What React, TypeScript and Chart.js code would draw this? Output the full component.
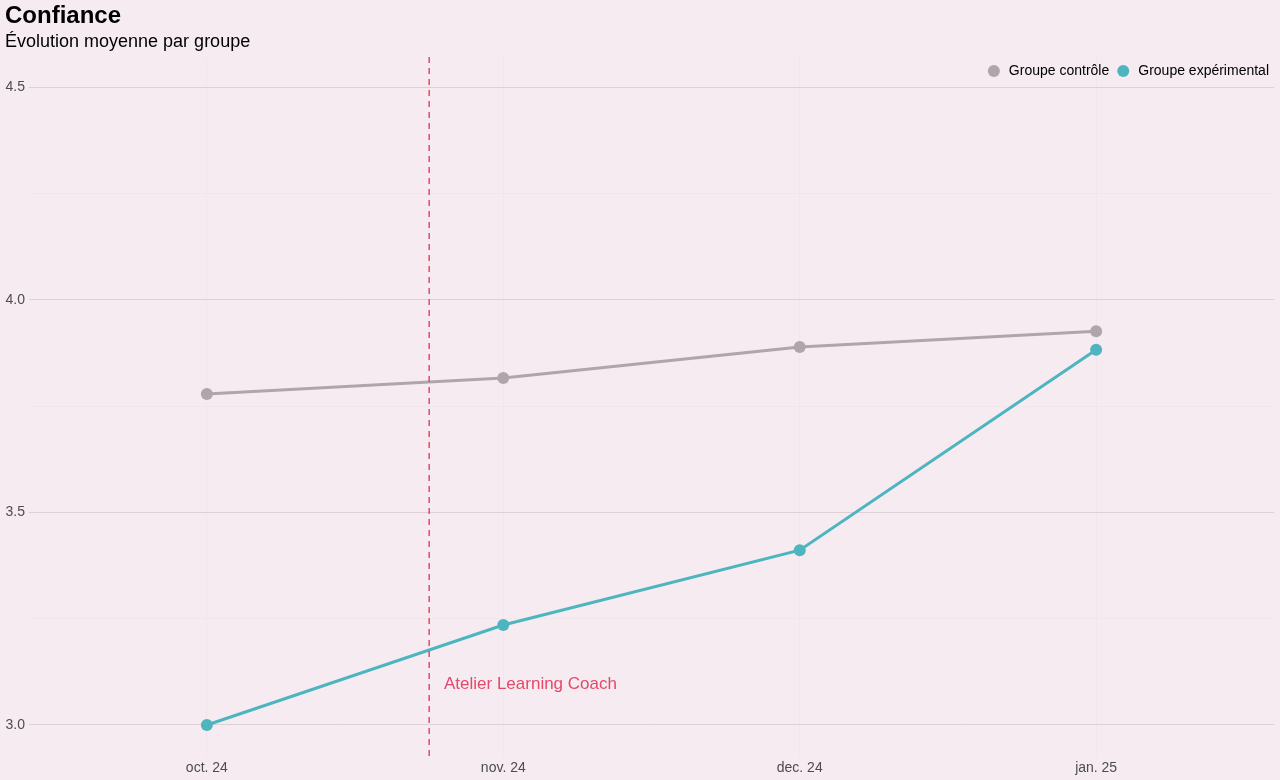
import React, { useEffect, useRef } from "react";
import { Chart, registerables } from "chart.js";

Chart.register(...registerables);

const categories = ["oct. 24", "nov. 24", "dec. 24", "jan. 25"];
const controlValues = [3.778, 3.816, 3.889, 3.926];
const experimentalValues = [3.0, 3.235, 3.411, 3.882];
const seriesLabels = ["Groupe contrôle", "Groupe expérimental"];
const yTickValues = [3.0, 3.5, 4.0, 4.5];
const eventX = 1.75;
const eventLabel = "Atelier Learning Coach";
const eventLabelX = 1.8;
const eventLabelY = 3.095;
const titleText = "Confiance";
const subtitleText = "Évolution moyenne par groupe";

const BG = "#F5EBF0";
const GREY = "#B0A5AB";
const TEAL = "#4DB5C0";
const RED = "#E5486A";
const FONT = "'Liberation Sans', Arial, sans-serif";

const bgPlugin = {
  id: "bgFill",
  beforeDraw(chart: any) {
    const { ctx, width, height } = chart;
    ctx.save();
    ctx.fillStyle = BG;
    ctx.fillRect(0, 0, width, height);
    ctx.restore();
  },
};

const eventPlugin = {
  id: "eventLine",
  afterDatasetsDraw(chart: any) {
    const { ctx, chartArea, scales } = chart;
    const x = scales.x.getPixelForValue(eventX);
    ctx.save();
    ctx.strokeStyle = RED;
    ctx.lineWidth = 1.5;
    ctx.setLineDash([6, 5]);
    ctx.beginPath();
    ctx.moveTo(x, chartArea.top);
    ctx.lineTo(x, chartArea.bottom);
    ctx.stroke();
    ctx.setLineDash([]);
    ctx.fillStyle = RED;
    ctx.font = `17px ${FONT}`;
    ctx.textAlign = "left";
    ctx.textBaseline = "middle";
    ctx.fillText(eventLabel, scales.x.getPixelForValue(eventLabelX), scales.y.getPixelForValue(eventLabelY));
    ctx.restore();
  },
};

const legendPlugin = {
  id: "customLegend",
  afterDraw(chart: any) {
    const { ctx, chartArea } = chart;
    ctx.save();
    ctx.font = `14px ${FONT}`;
    ctx.textBaseline = "middle";
    ctx.textAlign = "left";
    const y = chartArea.top + 14;
    let x = chartArea.right - 5;
    const items = chart.data.datasets.map((d: any) => ({ label: d.label, color: d.borderColor }));
    for (let i = items.length - 1; i >= 0; i--) {
      const w = ctx.measureText(items[i].label).width;
      const tx = x - w;
      ctx.fillStyle = "#000";
      ctx.fillText(items[i].label, tx, y);
      ctx.fillStyle = items[i].color;
      ctx.beginPath();
      ctx.arc(tx - 15, y, 6, 0, Math.PI * 2);
      ctx.fill();
      x = tx - 15 - 14;
    }
    ctx.restore();
  },
};

export default function App() {
  const ref = useRef<HTMLCanvasElement>(null);
  useEffect(() => {
    document.body.style.margin = "0";
    document.body.style.background = BG;
    const toPts = (vals: number[]) => vals.map((v, i) => ({ x: i + 1, y: v }));
    const chart = new Chart(ref.current!, {
      type: "line",
      data: {
        datasets: [
          {
            label: seriesLabels[0],
            data: toPts(controlValues),
            borderColor: GREY,
            backgroundColor: GREY,
            borderWidth: 3,
            pointRadius: 6,
            pointHoverRadius: 6,
            pointBorderWidth: 0,
          },
          {
            label: seriesLabels[1],
            data: toPts(experimentalValues),
            borderColor: TEAL,
            backgroundColor: TEAL,
            borderWidth: 3,
            pointRadius: 6,
            pointHoverRadius: 6,
            pointBorderWidth: 0,
          },
        ],
      },
      options: {
        animation: false,
        responsive: false,
        layout: { padding: { left: 5, right: 5, top: 0, bottom: 0 } },
        scales: {
          x: {
            type: "linear",
            min: 0.4,
            max: 4.6,
            afterBuildTicks: (axis: any) => {
              axis.ticks = categories.map((_, i) => ({ value: i + 1 }));
            },
            afterFit: (axis: any) => {
              axis.height = 23;
            },
            ticks: {
              callback: (v: any) => categories[Number(v) - 1] ?? "",
              color: "#4D4D4D",
              font: { family: FONT, size: 14 },
              padding: 3,
              maxRotation: 0,
              autoSkip: false,
            },
            grid: { color: "#F0E6EB", drawTicks: false, lineWidth: 1 },
            border: { display: false },
          },
          y: {
            type: "linear",
            min: 2.9247,
            max: 4.5706,
            afterBuildTicks: (axis: any) => {
              const t: any[] = [];
              for (let v = 3.0; v <= 4.5001; v += 0.25) t.push({ value: Math.round(v * 100) / 100 });
              axis.ticks = t;
            },
            afterFit: (axis: any) => {
              axis.width = 24;
            },
            ticks: {
              callback: (v: any) => (yTickValues.some((y) => Math.abs(y - Number(v)) < 1e-6) ? Number(v).toFixed(1) : ""),
              color: "#4D4D4D",
              font: { family: FONT, size: 14 },
              padding: 4,
            },
            grid: {
              color: (c: any) =>
                yTickValues.some((y) => Math.abs(y - c.tick?.value) < 1e-6) ? "#DDD1D7" : "#F0E6EB",
              drawTicks: false,
              lineWidth: 1,
            },
            border: { display: false },
          },
        },
        plugins: {
          title: {
            display: true,
            text: titleText,
            align: "start",
            color: "#000",
            font: { family: FONT, size: 24, weight: "bold" },
            padding: { top: 2, bottom: 0 },
          },
          subtitle: {
            display: true,
            text: subtitleText,
            align: "start",
            color: "#000",
            font: { family: FONT, size: 18 },
            padding: { top: 0, bottom: 4.6 },
          },
          legend: { display: false },
          tooltip: { enabled: false },
        },
      },
      plugins: [bgPlugin, eventPlugin, legendPlugin],
    } as any);
    return () => chart.destroy();
  }, []);
  return <canvas ref={ref} width={1280} height={780} style={{ display: "block" }} />;
}
